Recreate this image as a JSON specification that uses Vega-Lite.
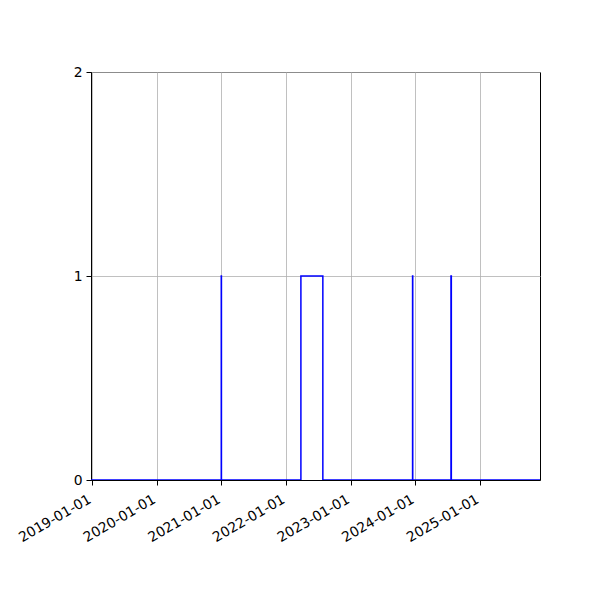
{
  "$schema": "https://vega.github.io/schema/vega-lite/v6.json",
  "width": 449,
  "height": 408,
  "autosize": {"type": "none"},
  "padding": {"left": 91, "top": 72, "right": 60, "bottom": 120},
  "background": "white",
  "config": {
    "font": "DejaVu Sans",
    "view": {"stroke": "black", "strokeWidth": 1},
    "axis": {
      "labelFont": "DejaVu Sans",
      "labelFontSize": 13.9,
      "labelColor": "black",
      "domainColor": "black",
      "tickColor": "black",
      "tickSize": 5,
      "gridColor": "#b0b0b0",
      "gridWidth": 0.8,
      "title": null
    }
  },
  "data": {
    "values": [
      {"date": "2018-12-26", "value": 0},
      {"date": "2020-12-31", "value": 1},
      {"date": "2021-01-01", "value": 0},
      {"date": "2022-03-26", "value": 1},
      {"date": "2022-07-28", "value": 0},
      {"date": "2023-12-17", "value": 1},
      {"date": "2023-12-18", "value": 0},
      {"date": "2024-07-21", "value": 1},
      {"date": "2024-07-23", "value": 0},
      {"date": "2025-12-06", "value": 0}
    ]
  },
  "mark": {"type": "line", "interpolate": "step-after", "color": "blue", "strokeWidth": 1.5, "clip": true},
  "encoding": {
    "x": {
      "field": "date",
      "type": "temporal",
      "scale": {
        "type": "utc",
        "domain": [
          {"utc": true, "year": 2018, "month": 12, "date": 26},
          {"utc": true, "year": 2025, "month": 12, "date": 6}
        ]
      },
      "axis": {
        "values": [
          {"utc": true, "year": 2019, "month": 1, "date": 1},
          {"utc": true, "year": 2020, "month": 1, "date": 1},
          {"utc": true, "year": 2021, "month": 1, "date": 1},
          {"utc": true, "year": 2022, "month": 1, "date": 1},
          {"utc": true, "year": 2023, "month": 1, "date": 1},
          {"utc": true, "year": 2024, "month": 1, "date": 1},
          {"utc": true, "year": 2025, "month": 1, "date": 1}
        ],
        "labelExpr": "utcFormat(datum.value, '%Y-%m-%d')",
        "labelAngle": -30,
        "labelAlign": "right",
        "labelBaseline": "top",
        "labelPadding": 7,
        "labelOffset": -6,
        "labelOverlap": false,
        "labelFlush": false,
        "grid": true
      }
    },
    "y": {
      "field": "value",
      "type": "quantitative",
      "scale": {"domain": [0, 2], "nice": false, "zero": true},
      "axis": {
        "values": [0, 1, 2],
        "labelExpr": "toString(datum.value)",
        "labelOverlap": false,
        "grid": true,
        "labelPadding": 4
      }
    }
  }
}
